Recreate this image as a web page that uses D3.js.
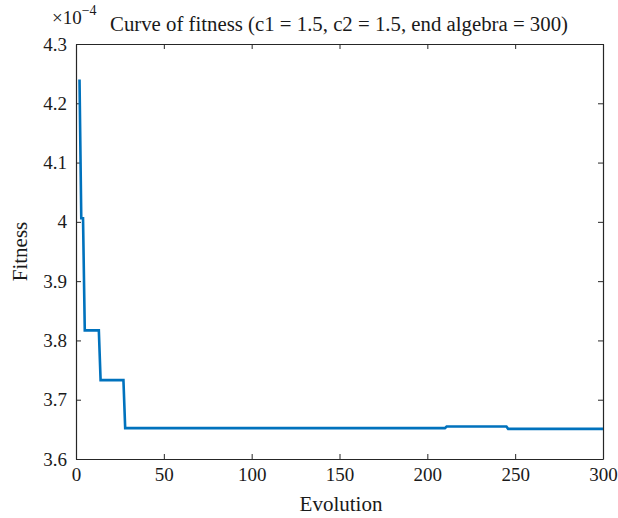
<!DOCTYPE html>
<html>
<head>
<meta charset="utf-8">
<script src="https://cdn.jsdelivr.net/npm/d3@7"></script>
<style>
  body { margin: 0; background: #fff; }
  svg text { font-family: "Liberation Serif", "DejaVu Serif", serif; fill: #1a1a1a; }
</style>
</head>
<body>
<svg id="chart"></svg>
<script>
// breakpoints of the fitness curve (evolution step, fitness x 1e-4)
var steps = [2, 3, 4, 5, 13, 14, 27, 28, 210, 211, 245, 246, 300];
var fitness = [4.240, 4.006, 4.006, 3.817, 3.817, 3.733, 3.733, 3.652, 3.652, 3.6549, 3.6549, 3.6508, 3.6508];

var xTicks = [0, 50, 100, 150, 200, 250, 300];
var yTicks = [3.6, 3.7, 3.8, 3.9, 4, 4.1, 4.2, 4.3];

var width = 618;
var height = 518;
var margin = {left: 76, right: 15, top: 44, bottom: 59};

var svg = d3.select("#chart")
    .attr("width", width)
    .attr("height", height);

var x = d3.scaleLinear().domain([0, 300]).range([margin.left, width - margin.right]);
var y = d3.scaleLinear().domain([3.6, 4.3]).range([height - margin.bottom, margin.top]);

var axisColor = "#262626";

// bottom + top axes
var gx = svg.append("g")
    .attr("transform", "translate(0," + (height - margin.bottom) + ")")
    .call(d3.axisBottom(x).tickValues(xTicks).tickSizeInner(-5).tickSizeOuter(0).tickPadding(8));
var gxTop = svg.append("g")
    .attr("transform", "translate(0," + margin.top + ")")
    .call(d3.axisTop(x).tickValues(xTicks).tickSizeInner(-5).tickSizeOuter(0).tickFormat(""));

// left + right axes
var gy = svg.append("g")
    .attr("transform", "translate(" + margin.left + ",0)")
    .call(d3.axisLeft(y).tickValues(yTicks).tickSizeInner(-5).tickSizeOuter(0).tickPadding(9)
        .tickFormat(function(d){ return d == 4 ? "4" : d3.format(".1f")(d); }));
var gyRight = svg.append("g")
    .attr("transform", "translate(" + (width - margin.right) + ",0)")
    .call(d3.axisRight(y).tickValues(yTicks).tickSizeInner(-5).tickSizeOuter(0).tickFormat(""));

[gx, gxTop, gy, gyRight].forEach(function(g){
    g.selectAll("path").attr("stroke", axisColor).attr("stroke-width", 1.2);
    g.selectAll("line").attr("stroke", axisColor).attr("stroke-width", 1);
    g.selectAll("text").style("font-size", "19px").attr("fill", "#1a1a1a")
        .style("font-family", "'Liberation Serif', 'DejaVu Serif', serif");
});
gx.selectAll("text").attr("dy", "0.75em");

// fitness curve
var pts = steps.map(function(s, i){ return [s, fitness[i]]; });
var line = d3.line()
    .x(function(d){ return x(d[0]); })
    .y(function(d){ return y(d[1]); });

svg.append("path")
    .datum(pts)
    .attr("d", line)
    .attr("fill", "none")
    .attr("stroke", "#0072BD")
    .attr("stroke-width", 2.6)
    .attr("stroke-linejoin", "miter");

// title
svg.append("text")
    .attr("x", 339)
    .attr("y", 31)
    .attr("text-anchor", "middle")
    .style("font-size", "20.8px")
    .text("Curve of fitness (c1 = 1.5, c2 = 1.5, end algebra = 300)");

// exponent label
var expo = svg.append("text")
    .attr("x", 52)
    .attr("y", 24)
    .style("font-size", "19px");
expo.append("tspan").text("\u00d710");
expo.append("tspan").attr("dy", -9).style("font-size", "14px").text("\u22124");

// axis labels
svg.append("text")
    .attr("x", 341)
    .attr("y", 511)
    .attr("text-anchor", "middle")
    .style("font-size", "21px")
    .text("Evolution");

svg.append("text")
    .attr("transform", "translate(27," + (height - margin.bottom + margin.top) / 2 + ") rotate(-90)")
    .attr("text-anchor", "middle")
    .style("font-size", "21px")
    .text("Fitness");
</script>
</body>
</html>
